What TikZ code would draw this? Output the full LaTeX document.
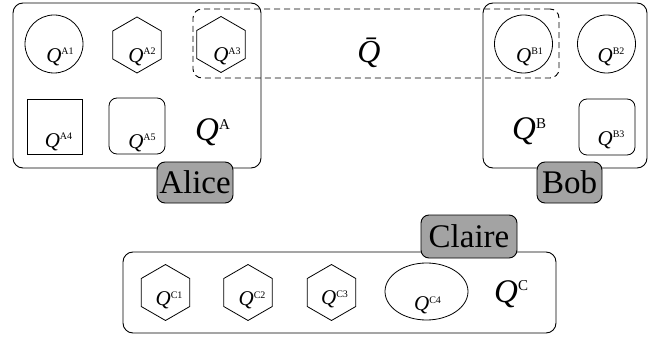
\documentclass[tikz,border=0pt]{standalone}
\usepackage{fontspec}
\setmainfont{Liberation Serif}
\usetikzlibrary{shapes.geometric}
\newcommand\qs[1]{{\fontsize{21}{21}\selectfont\itshape Q}\raisebox{7.3pt}{\fontsize{10}{10}\selectfont #1}}
\newcommand\qb[1]{{\fontsize{33}{33}\selectfont\itshape Q}\raisebox{11.8pt}{\fontsize{15}{15}\selectfont #1}}
\begin{document}
\begin{tikzpicture}[x=1pt,y=-1pt,
  party/.style={draw, line width=0.9pt, rounded corners=10pt, inner sep=0pt},
  shared/.style={draw, dashed, dash pattern=on 6pt off 4pt, line width=0.9pt, rounded corners=9pt, inner sep=0pt},
  circ/.style={draw, circle, minimum size=58pt, inner sep=0pt, line width=0.8pt},
  hex/.style={draw, regular polygon, regular polygon sides=6, shape border rotate=30, minimum size=56pt, inner sep=0pt, line width=0.8pt},
  sq/.style={draw, rectangle, minimum size=55pt, inner sep=0pt, line width=0.8pt},
  rsq/.style={draw, rectangle, rounded corners=8pt, minimum size=56pt, inner sep=0pt, line width=0.8pt},
  ell/.style={draw, ellipse, minimum width=83pt, minimum height=57pt, inner sep=0pt, line width=0.8pt},
  nametag/.style={draw, fill=black!36, line width=0.9pt, rounded corners=8pt, inner sep=0pt, font=\fontsize{33}{33}\selectfont},
  q/.style={anchor=base, inner sep=0pt}
]
\useasboundingbox (0,0) rectangle (658,339);
% party boxes
\node[party, minimum width=248pt, minimum height=165pt] (alice) at (137,85.5) {};
\node[party, minimum width=164pt, minimum height=165pt] (bob) at (565,85.5) {};
\node[party, minimum width=433pt, minimum height=81pt] (claire) at (339.5,292.5) {};
% Alice
\node[circ, label={[q, xshift=6pt, yshift=-13pt]center:\qs{A1}}] (a1) at (54,44) {};
\node[hex, label={[q, xshift=5pt, yshift=-12pt]center:\qs{A2}}] (a2) at (137,45) {};
\node[hex, label={[q, xshift=6pt, yshift=-12pt]center:\qs{A3}}] (a3) at (221,44.5) {};
\node[sq, label={[q, xshift=4pt, yshift=-15.5pt]center:\qs{A4}}] (a4) at (54.5,126.5) {};
\node[rsq, label={[q, xshift=5pt, yshift=-17pt]center:\qs{A5}}] (a5) at (137,126) {};
\node[anchor=base west, inner sep=0pt] (qa) at (195,141) {\qb{A}};
% Bob
\node[circ, label={[q, xshift=6pt, yshift=-13pt]center:\qs{B1}}] (b1) at (523.5,44) {};
\node[circ, label={[q, xshift=4.5pt, yshift=-13pt]center:\qs{B2}}] (b2) at (606.5,44) {};
\node[rsq, label={[q, xshift=4pt, yshift=-13pt]center:\qs{B3}}] (b3) at (607,127) {};
\node[anchor=base west, inner sep=0pt] (qb) at (512,140) {\qb{B}};
% Claire
\node[hex, label={[q, xshift=3.5pt, yshift=-8pt]center:\qs{C1}}] (c1) at (165.5,292.5) {};
\node[hex, label={[q, xshift=4pt, yshift=-8pt]center:\qs{C2}}] (c2) at (248,292.5) {};
\node[hex, label={[q, xshift=3pt, yshift=-7pt]center:\qs{C3}}] (c3) at (331.5,292.5) {};
\node[ell, label={[q, xshift=1pt, yshift=-14pt]center:\qs{C4}}] (c4) at (426.5,291.5) {};
\node[anchor=base west, inner sep=0pt] (qc) at (494,302) {\qb{C}};
% shared part
\node[shared, minimum width=366pt, minimum height=69pt] (qbarbox) at (376,43.5) {};
\node[anchor=base, inner sep=0pt] (qbar) at (369,63) {\fontsize{32}{32}\selectfont\itshape \=Q};
% name tags
\node[nametag, minimum width=76pt, minimum height=41pt] (alicetag) at (195,182.5) {Alice};
\node[nametag, minimum width=65pt, minimum height=41pt] (bobtag) at (569.5,182.5) {Bob};
\node[nametag, minimum width=96pt, minimum height=43pt] (clairetag) at (469,236.5) {Claire};
\end{tikzpicture}
\end{document}
